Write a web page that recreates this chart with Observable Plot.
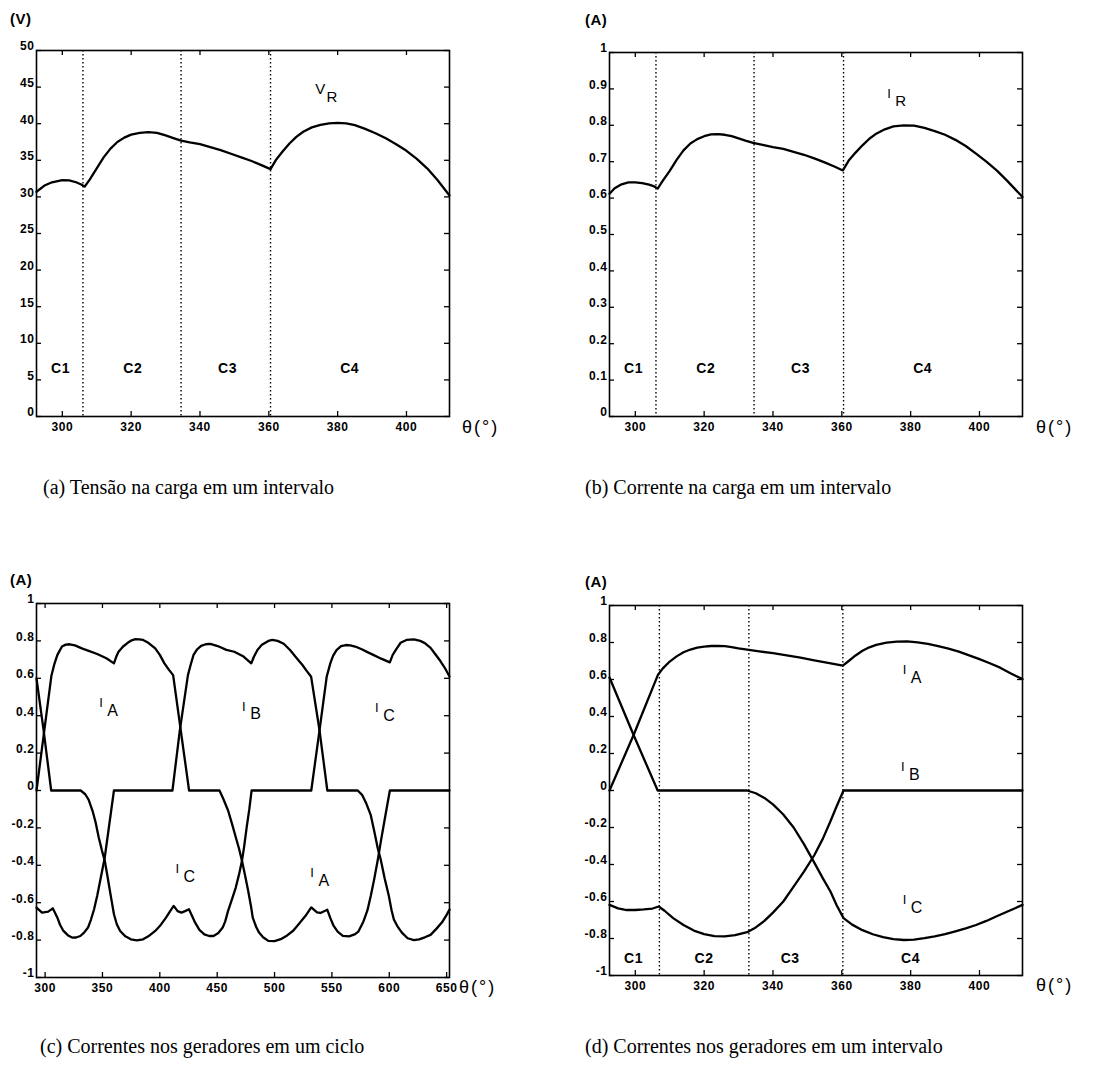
<!DOCTYPE html>
<html><head><meta charset="utf-8">
<script src="https://cdn.jsdelivr.net/npm/d3@7"></script>
<script src="https://cdn.jsdelivr.net/npm/@observablehq/plot@0.6"></script>
<style>
body{margin:0;background:#fff;}
#wrap{position:relative;width:1114px;height:1072px;overflow:hidden;background:#fff;}
.unit{position:absolute;font:bold 15px "Liberation Sans",Arial,sans-serif;color:#000;letter-spacing:0.5px;}
.theta{position:absolute;font:18px "Liberation Sans",Arial,sans-serif;color:#000;letter-spacing:2px;}
.cap{position:absolute;font:20px "Liberation Serif","Times New Roman",serif;white-space:nowrap;color:#000;}
svg text{letter-spacing:0.6px;}
</style></head><body><div id="wrap"></div>
<script>
// ---------- data ----------
// (a) load voltage V_R
const aTheta = [292.5,295,297,300,302,304,305.5,306.5,308,310,312,314,316,318,320,322.5,325,327.5,330,332.5,334.5,337,340,343,346,349,352,355,358,360.5,362,364,366,368,370,372.5,375,377.5,380,382.5,385,388,391,394,397,400,403,406,409,412.5];
const aVR    = [30.7,31.6,32.0,32.3,32.25,32.0,31.7,31.4,32.4,33.9,35.4,36.6,37.5,38.1,38.5,38.75,38.85,38.75,38.4,38.0,37.7,37.45,37.2,36.8,36.4,35.9,35.4,34.9,34.3,33.8,35.0,36.2,37.3,38.2,38.9,39.5,39.85,40.05,40.1,40.05,39.8,39.3,38.7,38.0,37.2,36.3,35.2,33.9,32.3,30.2];
// (b) load current I_R
const bTheta = [292.5,294,296,298,300,302,304,305.5,306.5,308,310,312,314,316,318,320,322,324,326,328,330,332,334.2,337,340,343,346,349,352,355,358,360.3,362,364,366,368,370,372.5,375,378,381,384,387,390,393,396,399,402,405,408,410,412.5];
const bIR    = [0.612,0.627,0.638,0.643,0.643,0.641,0.637,0.632,0.626,0.648,0.675,0.705,0.731,0.750,0.762,0.770,0.775,0.776,0.774,0.770,0.764,0.758,0.752,0.746,0.740,0.735,0.727,0.719,0.709,0.698,0.686,0.676,0.703,0.725,0.745,0.763,0.777,0.789,0.797,0.800,0.799,0.793,0.784,0.774,0.760,0.743,0.722,0.700,0.676,0.648,0.628,0.603];
// (c) generator currents over one cycle
const cIATheta = [292.5,305.5,308,310.7,314.7,318,321.4,326,332,338,345.4,353.4,360,362,364,368,372,375.5,378.7,382,385.4,390,396,400,404,408,411.6,425.5,452,455,459.5,463,466.2,469,471.6,474.5,477,479.5,481,484,486.5,490,494.6,500,505.4,511,516.2,521,527,532,537,540,546,548.5,551.4,555,559.5,565,570.3,573,577.5,581,584,587,590,593,597,600.5,652.5];
const cIA      = [0,0.614,0.675,0.725,0.770,0.780,0.782,0.776,0.760,0.747,0.730,0.707,0.680,0.715,0.742,0.770,0.790,0.803,0.809,0.808,0.805,0.790,0.760,0.725,0.680,0.645,0.617,0,0,-0.04,-0.107,-0.18,-0.25,-0.31,-0.375,-0.46,-0.536,-0.62,-0.68,-0.73,-0.76,-0.785,-0.804,-0.805,-0.795,-0.775,-0.75,-0.715,-0.67,-0.625,-0.652,-0.655,-0.638,-0.68,-0.723,-0.755,-0.777,-0.78,-0.768,-0.755,-0.70,-0.64,-0.56,-0.47,-0.37,-0.26,-0.12,0,0];
const cIBTheta = [292.5,297.3,302.7,306.7,308.5,310.7,313,316,320,324,327,330.7,334,337.4,340,342.7,345.5,348,352,356,360,411,417.4,424.5,427,429.4,432.5,436,440,444,449,451.4,458,464.9,470,473,479.7,482,485.1,489,494.6,498,502.7,508,513.5,519,524.3,528,531.9,539.2,546,572.5,576.5,580,583.8,587,590,592.5,596,599.7,602,604,607,611,616,621.5,626,631,636,641,646,650,652.5];
const cIB      = [-0.626,-0.653,-0.648,-0.630,-0.652,-0.680,-0.718,-0.751,-0.775,-0.787,-0.786,-0.778,-0.760,-0.733,-0.690,-0.635,-0.560,-0.483,-0.358,-0.179,0,0,0.32,0.617,0.675,0.725,0.755,0.773,0.782,0.784,0.775,0.770,0.752,0.742,0.726,0.716,0.680,0.715,0.751,0.780,0.800,0.805,0.800,0.785,0.751,0.710,0.671,0.640,0.608,0.322,0,0,-0.025,-0.07,-0.13,-0.22,-0.31,-0.368,-0.47,-0.566,-0.64,-0.69,-0.725,-0.76,-0.79,-0.800,-0.796,-0.785,-0.772,-0.740,-0.705,-0.665,-0.637];
const cICTheta = [292.5,298.7,305.3,331,335,338,341.4,344,346.7,349.5,352,354,356,358,360,362.5,365.4,370,374.7,380,385.4,390,396,400,405.4,409,412.1,415.5,418.8,422,425.4,428,430.8,434.5,438.8,443,446.8,451,454.8,457,459.5,463,466.2,469,471.6,473.5,475.7,478,480,532,539.2,545.5,548.6,551,554,558,562.2,566,570.3,576,581,586.5,593,600.5,603,606,609.9,615,621.5,627,631,636,640,644.7,648.5,652.5];
const cIC      = [0.600,0.322,0,0,-0.02,-0.05,-0.11,-0.17,-0.25,-0.32,-0.376,-0.445,-0.519,-0.59,-0.662,-0.715,-0.751,-0.780,-0.796,-0.802,-0.796,-0.780,-0.751,-0.725,-0.680,-0.645,-0.617,-0.645,-0.653,-0.645,-0.635,-0.670,-0.707,-0.745,-0.769,-0.778,-0.778,-0.762,-0.733,-0.700,-0.644,-0.580,-0.519,-0.450,-0.376,-0.300,-0.197,-0.100,0,0,0.322,0.610,0.680,0.720,0.751,0.772,0.778,0.776,0.770,0.755,0.740,0.724,0.705,0.685,0.725,0.755,0.790,0.805,0.808,0.800,0.788,0.763,0.730,0.691,0.655,0.610];
// (d) generator currents over one interval
const dIATheta = [292.5,299.5,306.6,308,310,312,314,316,318,320,322,324,326,328,330,333,336,340,344,348,352,356,360.3,362,364,366,368,370,373,376,379,382,385,388,391,394,397,400,403,406,409,412.5];
const dIA      = [0,0.30,0.626,0.660,0.697,0.725,0.747,0.762,0.772,0.778,0.781,0.782,0.780,0.775,0.768,0.760,0.752,0.742,0.731,0.718,0.704,0.690,0.675,0.700,0.730,0.755,0.774,0.787,0.799,0.805,0.806,0.801,0.792,0.780,0.767,0.751,0.730,0.710,0.688,0.664,0.634,0.602];
const dIBTheta = [292.5,295,297.5,300,302.5,305,306.8,308.5,311,314,317,320,323,326,329,332.5,335,337.5,340,343,346,349,352,354.5,356.7,358.5,360.5,412.5];
const dIB      = [-0.618,-0.637,-0.646,-0.646,-0.643,-0.638,-0.627,-0.650,-0.690,-0.727,-0.757,-0.776,-0.787,-0.788,-0.782,-0.766,-0.740,-0.705,-0.660,-0.600,-0.520,-0.438,-0.350,-0.260,-0.166,-0.085,0,0];
const dICTheta = [292.5,299.5,306.5,332.5,335,337.5,340,343,346,349,352,354.5,356.7,358.5,360.5,363,366,369,372,375,378,381,384,387,390,393,396,399,402,405,408,410.5,412.5];
const dIC      = [0.611,0.30,0,0,-0.015,-0.04,-0.075,-0.13,-0.20,-0.29,-0.39,-0.475,-0.546,-0.62,-0.69,-0.725,-0.755,-0.777,-0.793,-0.803,-0.808,-0.806,-0.798,-0.788,-0.776,-0.761,-0.745,-0.727,-0.705,-0.680,-0.655,-0.635,-0.618];

// interval boundaries (dotted lines) and interval names
const abBounds = [306, 334.5, 360.5];
const dBounds = [307, 333, 360.3];
const intervalNames = ["C1","C2","C3","C4"];
const abNamePos = [299.5, 320.5, 348, 383.5];
const dNamePos = [299.5, 320, 345, 380];

// tick values
const xTicksInterval = [300,320,340,360,380,400];
const xTicksCycle = [300,350,400,450,500,550,600,650];
const yTicksV = [0,5,10,15,20,25,30,35,40,45,50];
const yTicksIR = [0,0.1,0.2,0.3,0.4,0.5,0.6,0.7,0.8,0.9,1];
const yTicksI = [-1,-0.8,-0.6,-0.4,-0.2,0,0.2,0.4,0.6,0.8,1];

// curve labels: [main letter, subscript, theta, value]
const aCurveLabels = [["V","R",375,44.7]];
const bCurveLabels = [["I","R",373.8,0.887]];
const cCurveLabels = [["I","A",349,0.47],["I","B",473.5,0.45],["I","C",589.5,0.44],["I","C",415.5,-0.42],["I","A",533,-0.44]];
const dCurveLabels = [["I","A",378.3,0.65],["I","B",377.8,0.13],["I","C",378.3,-0.59]];

const captions = ["(a) Tensão na carga em um intervalo","(b) Corrente na carga em um intervalo","(c) Correntes nos geradores em um ciclo","(d) Correntes nos geradores em um intervalo"];
const units = ["(V)","(A)","(A)","(A)"];
const thetaLabel = "θ(°)";

// ---------- drawing ----------
const wrap = document.getElementById("wrap");
const fmt = d => String(+d.toFixed(1));
const pts = (ts, vs) => ts.map((t, i) => ({t, v: vs[i]}));

function curveLabelMarks(labels, mainSize, subSize) {
  const main = labels.map(l => ({t: l[2], v: l[3], s: l[0]}));
  const sub = labels.map(l => ({t: l[2], v: l[3], s: l[1]}));
  return [
    Plot.text(main, {x: "t", y: "v", text: "s", fontSize: mainSize, textAnchor: "middle", fill: "black"}),
    Plot.text(sub, {x: "t", y: "v", text: "s", fontSize: subSize, dx: 6, dy: 8, textAnchor: "start", fill: "black"})
  ];
}

function makePanel(cfg) {
  const ml = 44, mr = 14, mt = 14, mb = 32;
  const fw = cfg.frame[2] - cfg.frame[0], fh = cfg.frame[3] - cfg.frame[1];
  const p = Plot.plot({
    width: fw + ml + mr, height: fh + mt + mb,
    marginLeft: ml, marginRight: mr, marginTop: mt, marginBottom: mb,
    style: {fontFamily: '"Liberation Sans", Arial, sans-serif', background: "transparent", overflow: "visible", color: "black"},
    x: {domain: cfg.xDomain},
    y: {domain: cfg.yDomain},
    marks: [
      Plot.axisX({ticks: cfg.xTicks, tickSize: 0, tickPadding: 6, fontSize: 12, fontWeight: "bold", tickFormat: d => String(d), label: null}),
      Plot.axisY({ticks: cfg.yTicks, tickSize: 0, tickPadding: 2, fontSize: 12, fontWeight: "bold", tickFormat: fmt, dy: -4, label: null}),
      Plot.tickX(cfg.xTicks, {x: d => d, insetTop: fh - 5, strokeWidth: 1.3}),
      Plot.tickX(cfg.xTicks, {x: d => d, insetBottom: fh - 5, strokeWidth: 1.3}),
      Plot.tickY(cfg.yTicks, {y: d => d, insetRight: fw - 5, strokeWidth: 1.3}),
      Plot.tickY(cfg.yTicks, {y: d => d, insetLeft: fw - 5, strokeWidth: 1.3}),
      ...cfg.marks,
      Plot.frame({stroke: "black", strokeWidth: 1.6})
    ]
  });
  p.style.position = "absolute";
  p.style.left = (cfg.frame[0] - ml) + "px";
  p.style.top = (cfg.frame[1] - mt) + "px";
  wrap.appendChild(p);
}

function divider(bounds) {
  return Plot.ruleX(bounds, {x: d => d, stroke: "black", strokeWidth: 1.4, strokeDasharray: "1.4,2.6"});
}
function names(pos, yv) {
  return Plot.text(intervalNames.map((n, i) => ({n, t: pos[i]})), {x: "t", y: () => yv, text: "n", fontSize: 14, fontWeight: 600, fill: "black"});
}
const lineStyle = {x: "t", y: "v", stroke: "black", strokeWidth: 2.3};

// (a)
makePanel({
  frame: [36, 50, 449, 416], xDomain: [292.5, 412.5], yDomain: [0, 50],
  xTicks: xTicksInterval, yTicks: yTicksV,
  marks: [divider(abBounds), names(abNamePos, 6.6), Plot.line(pts(aTheta, aVR), lineStyle), ...curveLabelMarks(aCurveLabels, 15, 15)]
});
// (b)
makePanel({
  frame: [609, 52, 1022, 416], xDomain: [292.5, 412.5], yDomain: [0, 1],
  xTicks: xTicksInterval, yTicks: yTicksIR,
  marks: [divider(abBounds), names(abNamePos, 0.131), Plot.line(pts(bTheta, bIR), lineStyle), ...curveLabelMarks(bCurveLabels, 13, 15)]
});
// (c)
makePanel({
  frame: [36, 603, 449, 977], xDomain: [292.5, 652.5], yDomain: [-1, 1],
  xTicks: xTicksCycle, yTicks: yTicksI,
  marks: [
    Plot.line(pts(cIATheta, cIA), lineStyle),
    Plot.line(pts(cIBTheta, cIB), lineStyle),
    Plot.line(pts(cICTheta, cIC), lineStyle),
    ...curveLabelMarks(cCurveLabels, 13, 16)
  ]
});
// (d)
makePanel({
  frame: [609, 605, 1022, 975], xDomain: [292.5, 412.5], yDomain: [-1, 1],
  xTicks: xTicksInterval, yTicks: yTicksI,
  marks: [
    divider(dBounds), names(dNamePos, -0.91),
    Plot.line(pts(dIATheta, dIA), lineStyle),
    Plot.line(pts(dIBTheta, dIB), lineStyle),
    Plot.line(pts(dICTheta, dIC), lineStyle),
    ...curveLabelMarks(dCurveLabels, 13, 16)
  ]
});

// HTML text: units, θ labels, captions
function addDiv(cls, text, left, top) {
  const d = document.createElement("div");
  d.className = cls; d.textContent = text;
  d.style.left = left + "px"; d.style.top = top + "px";
  wrap.appendChild(d);
}
addDiv("unit", units[0], 10, 10);
addDiv("unit", units[1], 585, 11);
addDiv("unit", units[2], 10, 571);
addDiv("unit", units[3], 585, 573);
addDiv("theta", thetaLabel, 462, 417);
addDiv("theta", thetaLabel, 1036, 417);
addDiv("theta", thetaLabel, 459, 977);
addDiv("theta", thetaLabel, 1036, 975);
addDiv("cap", captions[0], 43, 476);
addDiv("cap", captions[1], 585, 476);
addDiv("cap", captions[2], 40, 1035);
addDiv("cap", captions[3], 585, 1035);
</script></body></html>
